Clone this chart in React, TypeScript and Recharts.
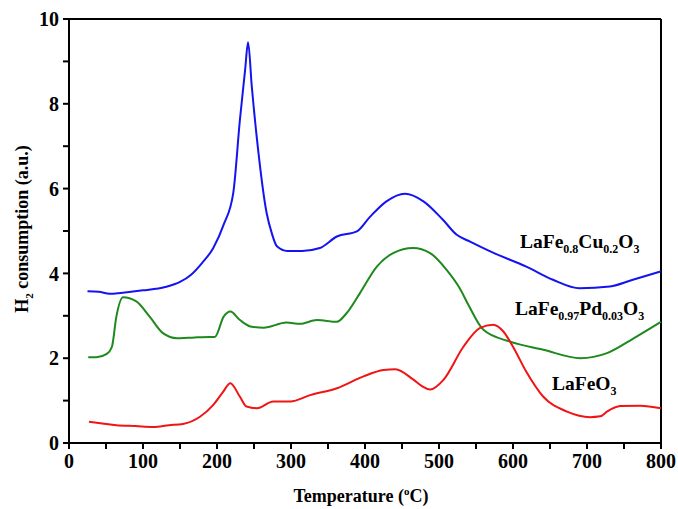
import { LineChart, Line, XAxis, YAxis, ReferenceLine } from "recharts";

// LaFe0.8Cu0.2O3 (blue)
const cuTemp = [25, 40, 55, 70, 100, 130, 150, 165, 180, 195, 209, 222, 231, 238, 242, 247, 256, 267, 274, 281, 295, 315, 339, 362, 389, 407, 429, 454, 479, 505, 524, 542, 573, 618, 654, 690, 731, 762, 800];
const cuValue = [3.58, 3.57, 3.52, 3.54, 3.6, 3.68, 3.8, 3.97, 4.25, 4.6, 5.15, 5.9, 7.63, 8.8, 9.45, 8.41, 6.85, 5.43, 4.95, 4.64, 4.53, 4.53, 4.6, 4.87, 4.99, 5.34, 5.7, 5.88, 5.7, 5.27, 4.91, 4.75, 4.49, 4.16, 3.85, 3.65, 3.69, 3.85, 4.05];

// LaFe0.97Pd0.03O3 (green)
const pdTemp = [26, 37, 51, 58, 64, 73, 91, 109, 127, 146, 170, 190, 197, 209, 218, 231, 245, 263, 294, 312, 335, 362, 375, 393, 416, 438, 465, 488, 510, 528, 540, 560, 596, 641, 691, 727, 763, 800];
const pdValue = [2.02, 2.02, 2.1, 2.27, 2.98, 3.44, 3.34, 2.98, 2.59, 2.47, 2.49, 2.5, 2.5, 2.98, 3.1, 2.9, 2.75, 2.72, 2.84, 2.81, 2.9, 2.86, 3.06, 3.53, 4.16, 4.48, 4.6, 4.48, 4.09, 3.65, 3.25, 2.67, 2.39, 2.2, 2.0, 2.12, 2.47, 2.86];

// LaFeO3 (red)
const feTemp = [27, 45, 64, 90, 114, 135, 154, 177, 195, 208, 218, 231, 240, 254, 276, 299, 326, 362, 398, 425, 441, 465, 478, 488, 506, 533, 555, 573, 587, 600, 618, 641, 673, 704, 718, 727, 745, 772, 800];
const feValue = [0.5, 0.46, 0.42, 0.4, 0.38, 0.42, 0.45, 0.62, 0.9, 1.2, 1.41, 1.09, 0.86, 0.82, 0.98, 0.98, 1.13, 1.29, 1.57, 1.72, 1.74, 1.5, 1.33, 1.26, 1.49, 2.27, 2.71, 2.79, 2.63, 2.27, 1.68, 1.09, 0.74, 0.61, 0.63, 0.74, 0.87, 0.88, 0.82];

const xTicks = [0, 50, 100, 150, 200, 250, 300, 350, 400, 450, 500, 550, 600, 650, 700, 750, 800];
const yTicks = [0, 1, 2, 3, 4, 5, 6, 7, 8, 9, 10];

const toPoints = (temps: number[], values: number[]) =>
  temps.map((t, i) => ({ t, v: values[i] }));

const cuData = toPoints(cuTemp, cuValue);
const pdData = toPoints(pdTemp, pdValue);
const feData = toPoints(feTemp, feValue);

const FONT = "'Liberation Serif', 'Times New Roman', serif";
const tickStyle = { fontSize: 20, fontWeight: 700, fill: "#000", fontFamily: FONT };

export default function App() {
  return (
    <div style={{ position: "absolute", left: 0, top: 0, width: 678, height: 509, background: "#fff" }}>
      <LineChart width={678} height={509} margin={{ top: 19, right: 17, bottom: 26, left: 0 }}>
        <XAxis
          type="number"
          dataKey="t"
          domain={[0, 800]}
          ticks={xTicks}
          tickFormatter={(v: number) => (v % 100 === 0 ? String(v) : "")}
          tick={tickStyle}
          tickSize={6}
          tickMargin={5}
          height={40}
          stroke="#000"
          strokeWidth={2}
          interval={0}
        />
        <YAxis
          type="number"
          domain={[0, 10]}
          ticks={yTicks}
          tickFormatter={(v: number) => (v % 2 === 0 ? String(v) : "")}
          tick={tickStyle}
          tickSize={6}
          tickMargin={4}
          width={69}
          stroke="#000"
          strokeWidth={2}
          interval={0}
        />
        <ReferenceLine y={10} stroke="#000" strokeWidth={2} />
        <ReferenceLine x={800} stroke="#000" strokeWidth={2} />
        <Line data={cuData} dataKey="v" type="monotone" stroke="#1414f0" strokeWidth={2} dot={false} isAnimationActive={false} />
        <Line data={pdData} dataKey="v" type="monotone" stroke="#1e8a1e" strokeWidth={2} dot={false} isAnimationActive={false} />
        <Line data={feData} dataKey="v" type="monotone" stroke="#f01414" strokeWidth={2} dot={false} isAnimationActive={false} />
      </LineChart>
      <svg
        width={678}
        height={509}
        style={{ position: "absolute", left: 0, top: 0, pointerEvents: "none" }}
        fontFamily={FONT}
        fontWeight={700}
        fill="#000"
      >
        <text transform="translate(28,229) rotate(-90)" textAnchor="middle" fontSize={18}>
          H<tspan fontSize={11} dy={5}>2</tspan>
          <tspan dy={-5}> consumption (a.u.)</tspan>
        </text>
        <text x={361} y={502} textAnchor="middle" fontSize={18}>
          Temperature (<tspan fontSize={11} dy={-7}>o</tspan>
          <tspan dy={7}>C)</tspan>
        </text>
        <text x={520} y={248} fontSize={19.5}>
          LaFe<tspan fontSize={12} dy={5}>0.8</tspan>
          <tspan dy={-5}>Cu</tspan>
          <tspan fontSize={12} dy={5}>0.2</tspan>
          <tspan dy={-5}>O</tspan>
          <tspan fontSize={12} dy={5}>3</tspan>
        </text>
        <text x={515} y={315} fontSize={19.5}>
          LaFe<tspan fontSize={12} dy={5}>0.97</tspan>
          <tspan dy={-5}>Pd</tspan>
          <tspan fontSize={12} dy={5}>0.03</tspan>
          <tspan dy={-5}>O</tspan>
          <tspan fontSize={12} dy={5}>3</tspan>
        </text>
        <text x={552} y={390} fontSize={19.5}>
          LaFeO<tspan fontSize={12} dy={5}>3</tspan>
        </text>
      </svg>
    </div>
  );
}
